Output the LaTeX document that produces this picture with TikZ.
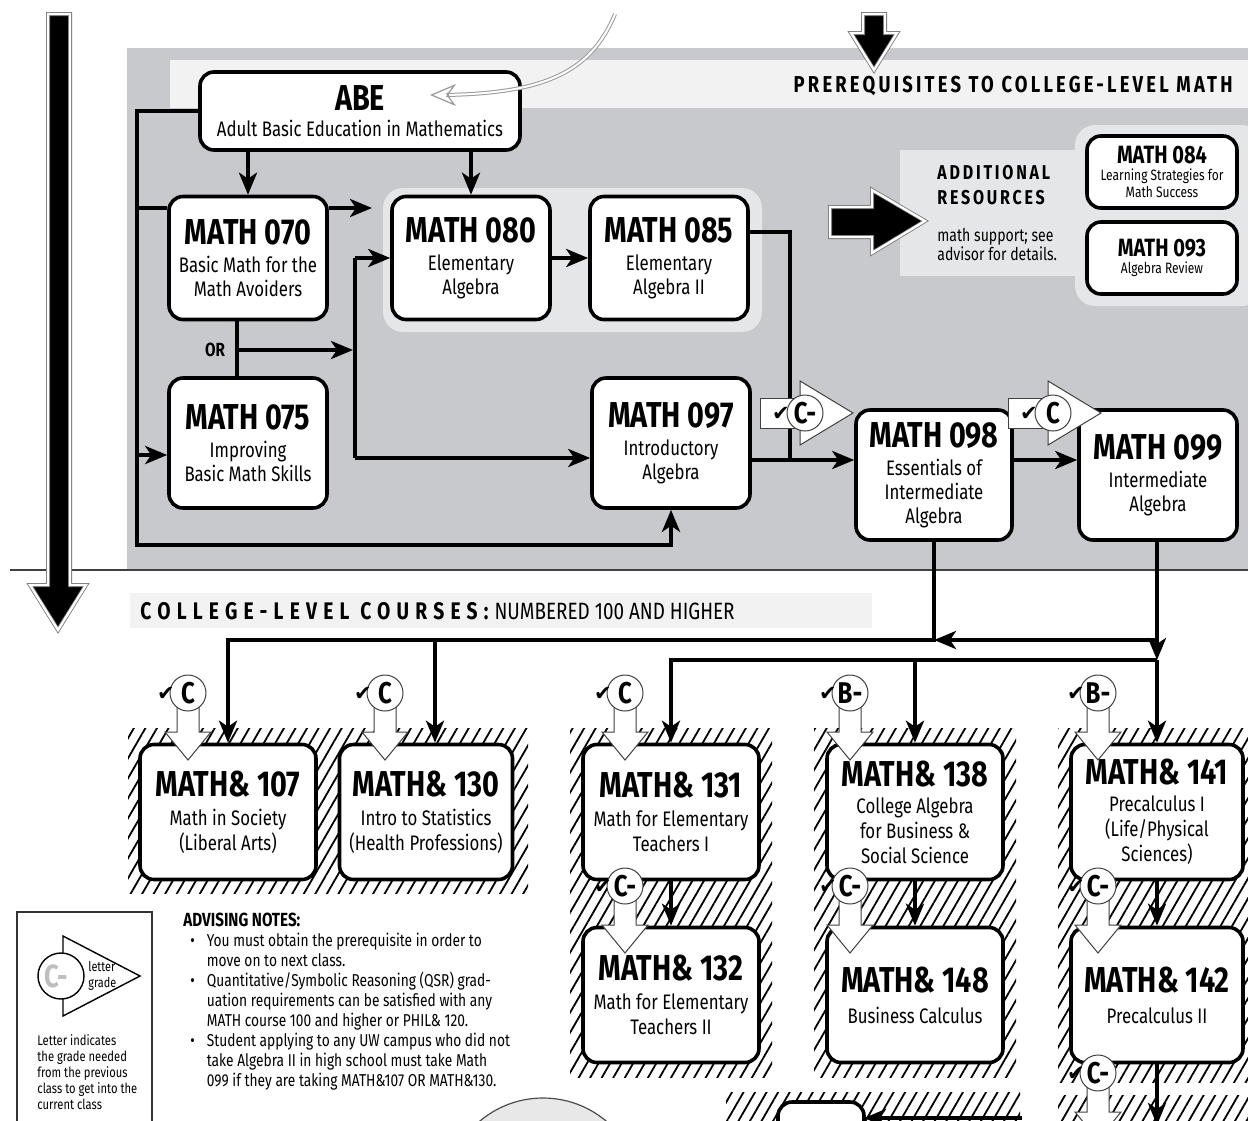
\documentclass[tikz,border=0pt]{standalone}
\usepackage{fontspec}
\setmainfont{Fira Sans}[FakeStretch=0.8]
\newfontfamily\spacedfont{Fira Sans}[FakeStretch=0.8, LetterSpace=14]
\newfontfamily\widefont{Fira Sans}[FakeStretch=0.8, LetterSpace=26]
\newfontfamily\symfont{DejaVu Sans}
\usepackage{tikz}
\usetikzlibrary{arrows.meta, patterns.meta, calc}

\definecolor{panelgray}{RGB}{200,201,204}
\definecolor{stripgray}{RGB}{242,242,242}
\definecolor{groupgray}{RGB}{229,230,232}
\definecolor{discgray}{RGB}{232,232,232}
\definecolor{lettergray}{RGB}{190,190,190}

\newcommand{\ctitle}[1]{{\fontsize{18}{18}\selectfont\bfseries #1}}
\newcommand{\stitle}[1]{{\fontsize{12.5}{12.5}\selectfont\bfseries #1}}

\tikzset{
  course/.style={draw, line width=1.8pt, rounded corners=7pt, fill=white, align=center,
    inner sep=0pt, font=\fontsize{10.5}{12}\selectfont},
  prebox/.style={course, minimum width=79pt, minimum height=61.5pt},
  tallbox/.style={course, minimum width=79pt, minimum height=65pt},
  collegebox/.style={course, minimum width=88pt, minimum height=67.5pt, font=\fontsize{10.5}{12.5}\selectfont},
  sidebox/.style={course, minimum width=75pt, minimum height=36pt, font=\fontsize{7.5}{8.5}\selectfont},
  link/.style={line width=2pt},
  flow/.style={link, -{Stealth[length=11pt, width=9pt, inset=3pt]}},
  hatch/.style={pattern={Lines[angle=60, distance=5pt, line width=0.9pt]}},
  hollow/.style={fill=white, draw=black!75, line width=0.5pt},
  gradedot/.style={circle, hollow, minimum size=18pt, inner sep=0pt, font=\fontsize{15}{15}\selectfont\bfseries},
  tick/.style={inner sep=0pt, font=\symfont\fontsize{10.5}{10.5}\selectfont},
  bigarrow/.style={fill=black, draw=black!55, double=white, double distance=1.2pt, line width=0.4pt},
}

% grade badge pointing right: name, x, y, grade
\newcommand{\graderight}[4]{%
  \filldraw[hollow] (#2-5,#3-32) -- (#2+48,#3) -- (#2-5,#3+32) -- cycle;
  \filldraw[hollow] (#2-45,#3-15) rectangle (#2,#3+15);
  \node[gradedot] (#1) at (#2,#3) {#4};
  \node[tick] at (#2-24,#3+1) {✔};
}
% grade badge pointing down: name, x, y, grade
\newcommand{\gradedown}[4]{%
  \filldraw[hollow] (#2-11,#3+14) -- (#2-11,#3+39) -- (#2-23,#3+39) -- (#2,#3+67)
    -- (#2+23,#3+39) -- (#2+11,#3+39) -- (#2+11,#3+14) -- cycle;
  \node[gradedot] (#1) at (#2,#3) {#4};
  \node[tick] at (#2-22,#3+1) {✔};
}

\begin{document}
\begin{tikzpicture}[x=0.5pt, y=-0.5pt]

\useasboundingbox (0,0) rectangle (1248,1120);
\clip (0,0) rectangle (1248,1120);

% --- Backgrounds ---
\fill[panelgray] (127,48) rectangle (1248,570);
\fill[stripgray] (170,60) rectangle (1248,108);
\fill[groupgray, rounded corners=10pt] (383,188) rectangle (762,332);
\fill[groupgray] (900,150) rectangle (1090,276);
\fill[groupgray, rounded corners=10pt] (1075,125) rectangle (1262,306);
\fill[stripgray] (130,593) rectangle (872,628);
\draw[line width=0.7pt, black!75] (10,570) -- (1248,570);

% --- Hatched shadows ---
\fill[hatch] (128,728) rectangle (528,893);
\fill[hatch] (570,728) rectangle (772,1077);
\fill[hatch] (814,728) rectangle (1016,1077);
\fill[hatch] (1058,728) rectangle (1248,1082);
\fill[hatch] (726,1092) rectangle (1020,1125);
\fill[hatch] (1058,1095) rectangle (1248,1125);

% --- Headers ---
\node[anchor=base east, inner sep=0pt, font=\spacedfont\bfseries\fontsize{11.5}{12}\selectfont] (prereq) at (1233,92)
  {PREREQUISITES TO COLLEGE-LEVEL MATH};
\node[anchor=base west, inner sep=0pt] (college) at (140,619)
  {{\widefont\bfseries\fontsize{12}{12}\selectfont COLLEGE-LEVEL COURSES:}\hspace{3pt}{\fontsize{11.8}{12}\selectfont NUMBERED 100 AND HIGHER}};

% --- Prerequisite courses ---
\node[course, minimum width=160pt, minimum height=39pt] (abe) at (360,111)
  {{\fontsize{18}{18}\selectfont\bfseries ABE}\\[1pt]Adult Basic Education in Mathematics};
\node[prebox] (m070) at (248,258) {\ctitle{MATH 070}\\[2pt]Basic Math for the\\Math Avoiders};
\node[prebox] (m080) at (471,258) {\ctitle{MATH 080}\\[2pt]Elementary\\Algebra};
\node[prebox] (m085) at (669,258) {\ctitle{MATH 085}\\[2pt]Elementary\\Algebra II};
\node[tallbox] (m075) at (248,443) {\ctitle{MATH 075}\\[2pt]Improving\\Basic Math Skills};
\node[tallbox] (m097) at (671,443) {\ctitle{MATH 097}\\[2pt]Introductory\\Algebra};
\node[tallbox, minimum width=78pt] (m098) at (934,475) {\ctitle{MATH 098}\\[2pt]Essentials of\\Intermediate\\Algebra};
\node[tallbox] (m099) at (1158,475) {\ctitle{MATH 099}\\[2pt]Intermediate\\Algebra};

% --- Additional resources ---
\node[sidebox] (m084) at (1162,172) {\stitle{MATH 084}\\Learning Strategies for\\Math Success};
\node[sidebox] (m093) at (1162,258) {\stitle{MATH 093}\\Algebra Review};
\node[anchor=north west, inner sep=0pt, align=left, font=\spacedfont\bfseries\fontsize{10}{12.5}\selectfont] (addres) at (937,165)
  {ADDITIONAL\\RESOURCES};
\node[anchor=north west, inner sep=0pt, align=left, font=\fontsize{8.8}{9.5}\selectfont] (support) at (937,228)
  {math support; see\\advisor for details.};
\filldraw[bigarrow] (830,207) -- (872,207) -- (872,190) -- (925,221) -- (872,253) -- (872,237) -- (830,237) -- cycle;

% --- Prerequisite connectors ---
\coordinate (trunk) at (137,545);
\coordinate (trunk208) at (137,208);
\coordinate (trunk455) at (137,455);
\coordinate (grp) at (372,208);
\coordinate (split) at (355,350);
\coordinate (join) at (790,460);

\draw[flow] (abe.west) -| (trunk) -| (m097.south);
\draw[link] (trunk208) -- (trunk208 -| m070.west);
\draw[flow] (trunk208 -| m070.east) -- (grp);
\draw[flow] (trunk455) -- (trunk455 -| m075.west);
\draw[flow] (abe.south -| m070) -- (m070.north);
\draw[flow] (abe.south -| m080) -- (m080.north);
\draw[link] ([xshift=-5.5pt]m070.south) -- ([xshift=-5.5pt]m075.north);
\node[font=\bfseries\fontsize{9.5}{9.5}\selectfont, inner sep=0pt] (or) at (215,350) {OR};
\draw[flow] (split -| or.east) ++(11,0) -- ([xshift=-1pt]split);
\draw[link] (split |- m080.west) -- (split |- 0,458);
\draw[flow] (split |- m080.west) -- (m080.west);
\draw[flow] (split |- 0,458) -- ([yshift=-7.5pt]m097.west);
\draw[flow] (m080.east) -- (m085.west);
\draw[link] ([yshift=13pt]m085.east) -| (join);
\draw[flow] ([yshift=-8.5pt]m097.east) -- ([yshift=7.5pt]m098.west);
\draw[flow] ([yshift=7.5pt]m098.east) -- ([yshift=7.5pt]m099.west);

% --- Big arrows ---
\filldraw[bigarrow] (48,14) -- (70,14) -- (70,585) -- (86,585) -- (58,630) -- (30,585) -- (48,585) -- cycle;
\filldraw[bigarrow] (863,14) -- (885,14) -- (885,33) -- (897,33) -- (874,70) -- (851,33) -- (863,33) -- cycle;
\coordinate (abetip) at (430,95);
\draw[black!40, double=white, double distance=1pt, line width=0.5pt] (615,14) .. controls (590,75) and (540,93) .. (446,95);
\draw[black!40, line width=0.6pt, -{Stealth[open, length=13pt, width=11pt, inset=4pt]}] (448,95) -- (abetip);

% --- College-level courses ---
\node[collegebox] (m107) at (228,812) {\ctitle{MATH\& 107}\\[2pt]Math in Society\\(Liberal Arts)};
\node[collegebox, minimum width=86.5pt] (m130) at (426,812) {\ctitle{MATH\& 130}\\[2pt]Intro to Statistics\\(Health Professions)};
\node[collegebox] (m131) at (671,812) {\ctitle{MATH\& 131}\\[2pt]Math for Elementary\\Teachers I};
\node[collegebox] (m132) at (671,995) {\ctitle{MATH\& 132}\\[2pt]Math for Elementary\\Teachers II};
\node[collegebox] (m138) at (915,812) {\ctitle{MATH\& 138}\\[1pt]College Algebra\\for Business \&\\Social Science};
\node[collegebox] (m148) at (915,995) {\ctitle{MATH\& 148}\\[3pt]Business Calculus};
\node[collegebox, minimum width=86pt] (m141) at (1157,812) {\ctitle{MATH\& 141}\\[1pt]Precalculus I\\(Life/Physical\\Sciences)};
\node[collegebox, minimum width=86pt] (m142) at (1157,995) {\ctitle{MATH\& 142}\\[3pt]Precalculus II};

% --- College connectors ---
\coordinate (busA) at (934,640);
\coordinate (busB) at (1157,660);
\coordinate (next142) at (1157,1125);
\coordinate (lowbox) at (864,1118);
\coordinate (lowfeed) at (1022,1118);

\draw[flow] (m098.south) -- (busA) -| (m107.north);
\draw[flow] (busA -| m130.north) ++(9,0) -- ([xshift=4.5pt]m130.north);
\draw[flow] ([xshift=-0.5pt]m099.south) -- (busB);
\draw[flow] (busB |- busA) -- (busA);
\draw[flow] (busB) -| (m131.north);
\draw[flow] (busB -| m138.north) -- (m138.north);
\draw[flow] (busB) -- (m141.north);
\draw[flow] (m131.south) -- (m132.north);
\draw[flow] (m138.south) -- (m148.north);
\draw[flow] (m141.south) -- (m142.north);
\draw[flow] (m142.south) -- (next142);

% --- Partial shapes at the bottom ---
\filldraw[fill=discgray, draw=black!70, line width=0.6pt] (543,1196) circle [radius=49pt];
\filldraw[fill=white, line width=1.8pt, rounded corners=7pt] (778,1102) rectangle (864,1170);
\draw[flow] (lowfeed) -- (lowbox);

% --- Grade badges ---
\graderight{gC1}{805}{413}{C-}
\graderight{gC2}{1053}{413}{C}
\gradedown{g107}{188}{693}{C}
\gradedown{g130}{385}{693}{C}
\gradedown{g131}{625}{693}{C}
\gradedown{g138}{850}{693}{B-}
\gradedown{g141}{1098}{693}{B-}
\gradedown{g132}{625}{886}{C-}
\gradedown{g148}{850}{886}{C-}
\gradedown{g142}{1098}{886}{C-}
\gradedown{gnext}{1098}{1073}{C-}

% --- Legend ---
\draw[line width=0.6pt, black!80] (17,912) rectangle (152,1135);
\draw[line width=0.7pt] (63,936) -- (140,976) -- (63,1016) -- cycle;
\filldraw[fill=white, line width=0.7pt] (61,976) circle [radius=11.5pt];
\node[text=lettergray, font=\fontsize{16}{16}\selectfont\bfseries, inner sep=0pt] (legendC) at (56,976) {C-};
\node[anchor=west, align=left, inner sep=0pt, font=\fontsize{6.8}{8}\selectfont] (legendtxt) at (88,976) {letter\\grade};
\node[anchor=north west, align=left, inner sep=0pt, font=\fontsize{7}{8}\selectfont] (legendnote) at (37,1034)
  {Letter indicates\\the grade needed\\from the previous\\class to get into the\\current class};

% --- Advising notes ---
\node[anchor=north west, inner sep=0pt, font=\fontsize{8.6}{10}\selectfont] (notes) at (183,912) {%
  \begin{tabular}{@{}l@{\hspace{6pt}}l@{}}
  \multicolumn{2}{@{}l}{\bfseries\fontsize{9.5}{10}\selectfont ADVISING NOTES:}\\
  \hspace*{3.5pt}\textbullet & You must obtain the prerequisite in order to\\
   & move on to next class.\\
  \hspace*{3.5pt}\textbullet & Quantitative/Symbolic Reasoning (QSR) grad-\\
   & uation requirements can be satisfied with any\\
   & MATH course 100 and higher or PHIL\& 120.\\
  \hspace*{3.5pt}\textbullet & Student applying to any UW campus who did not\\
   & take Algebra II in high school must take Math\\
   & 099 if they are taking MATH\&107 OR MATH\&130.
  \end{tabular}};

\end{tikzpicture}
\end{document}
